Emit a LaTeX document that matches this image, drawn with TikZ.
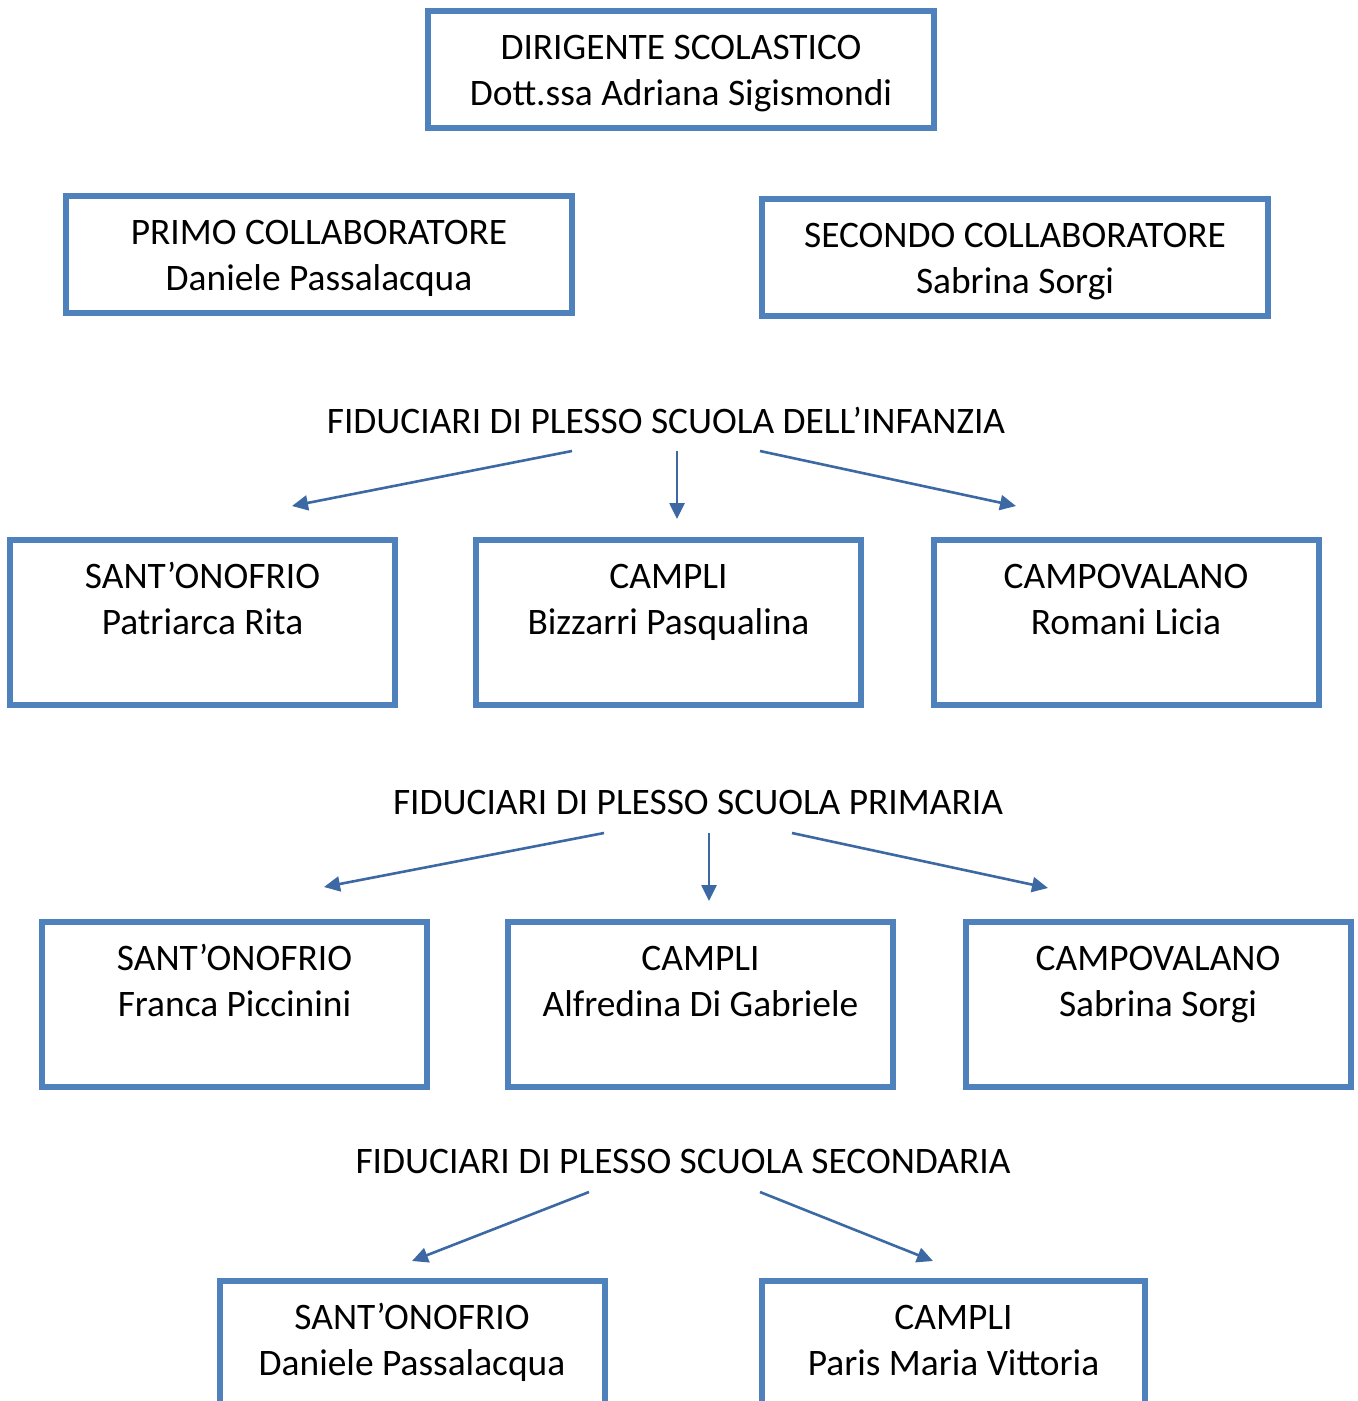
\documentclass[tikz,border=0pt]{standalone}
\usepackage{fontspec}
\setmainfont{Carlito}
\usetikzlibrary{arrows.meta}
\definecolor{boxblue}{RGB}{79,129,189}
\definecolor{arrblue}{RGB}{60,104,164}
\newcommand\tsA{\rule{0pt}{40pt}}
\newcommand\tsB{\rule{0pt}{38pt}}
\begin{document}
\begin{tikzpicture}[x=1pt,y=-1pt,
  txt/.style={font=\fontsize{37.4}{46}\selectfont},
  box/.style={draw=boxblue, line width=6pt, inner sep=0pt, align=center, txt},
  small/.style={box, minimum width=506pt, minimum height=117pt},
  fid/.style={box, minimum width=385pt, minimum height=165pt},
  lab/.style={inner sep=0pt, txt},
  arr/.style={draw=arrblue, line width=2.6pt, -{Triangle[length=16pt,width=15pt]}}]
\useasboundingbox (0,0) rectangle (1358,1401);
\clip (0,0) rectangle (1358,1401);
% top level
\node[small] (dir) at (681,69) {\tsA DIRIGENTE SCOLASTICO\\\strut Dott.ssa Adriana Sigismondi};
\node[small] (primo) at (319,254.5) {\tsA PRIMO COLLABORATORE\\\strut Daniele Passalacqua};
\node[small] (secondo) at (1015,257.5) {\tsA SECONDO COLLABORATORE\\\strut Sabrina Sorgi};
% infanzia
\node[lab] (linf) at (666,420) {FIDUCIARI DI PLESSO SCUOLA DELL’INFANZIA};
\node[fid] (inf1) at (202.5,622.5) {\tsB SANT’ONOFRIO\\\strut Patriarca Rita\\\strut};
\node[fid] (inf2) at (668.5,622.5) {\tsB CAMPLI\\\strut Bizzarri Pasqualina\\\strut};
\node[fid] (inf3) at (1126,622.5) {\tsB CAMPOVALANO\\\strut Romani Licia\\\strut};
\coordinate (ia) at (572,451); \coordinate (ia2) at (292,506);
\coordinate (ib) at (677,451); \coordinate (ib2) at (677,519);
\coordinate (ic) at (760,451); \coordinate (ic2) at (1016,506);
\draw[arr] (ia) -- (ia2);
\draw[arr] (ib) -- (ib2);
\draw[arr] (ic) -- (ic2);
% primaria
\node[lab] (lpri) at (698,802) {FIDUCIARI DI PLESSO SCUOLA PRIMARIA};
\node[fid] (pri1) at (234.5,1004.5) {\tsB SANT’ONOFRIO\\\strut Franca Piccinini\\\strut};
\node[fid] (pri2) at (700.5,1004.5) {\tsB CAMPLI\\\strut Alfredina Di Gabriele\\\strut};
\node[fid] (pri3) at (1158,1004.5) {\tsB CAMPOVALANO\\\strut Sabrina Sorgi\\\strut};
\coordinate (pa) at (604,833); \coordinate (pa2) at (324,887);
\coordinate (pb) at (709,833); \coordinate (pb2) at (709,901);
\coordinate (pc) at (792,833); \coordinate (pc2) at (1048,888);
\draw[arr] (pa) -- (pa2);
\draw[arr] (pb) -- (pb2);
\draw[arr] (pc) -- (pc2);
% secondaria
\node[lab] (lsec) at (683,1161) {FIDUCIARI DI PLESSO SCUOLA SECONDARIA};
\node[fid] (sec1) at (412,1363.5) {\tsB SANT’ONOFRIO\\\strut Daniele Passalacqua\\\strut};
\node[fid, minimum width=383pt] (sec2) at (953.5,1363.5) {\tsB CAMPLI\\\strut Paris Maria Vittoria\\\strut};
\coordinate (sa) at (589,1192); \coordinate (sa2) at (412,1261);
\coordinate (sb) at (760,1192); \coordinate (sb2) at (933,1261);
\draw[arr] (sa) -- (sa2);
\draw[arr] (sb) -- (sb2);
\end{tikzpicture}
\end{document}
